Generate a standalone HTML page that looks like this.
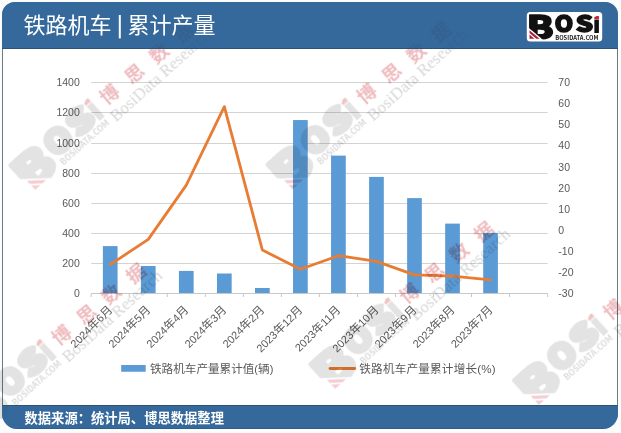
<!DOCTYPE html><html><head><meta charset="utf-8"><title>铁路机车 | 累计产量</title><style>html,body{margin:0;padding:0;background:#fff;}svg{display:block}</style></head><body>
<svg width="621" height="433" viewBox="0 0 621 433">
<defs><clipPath id="cutB" clipPathUnits="userSpaceOnUse"><polygon points="520,0 560,0 560,54 520,20.56"/></clipPath><clipPath id="cutI" clipPathUnits="userSpaceOnUse"><rect x="585" y="19.6" width="20" height="20"/></clipPath><filter id="wmblur" x="-10%" y="-10%" width="120%" height="120%"><feGaussianBlur stdDeviation="0.35"/></filter></defs>
<rect x="0" y="0" width="621" height="433" fill="#fbfdfd"/>
<rect x="2.5" y="30" width="615" height="378" fill="#fff" stroke="#6d7b84" stroke-width="1"/>
<path d="M2,49 V15 A13,13 0 0 1 15,2 H605 A13,13 0 0 1 618,15 V49 Z" fill="#35689b"/>
<path d="M2,405 H618 V413.5 A15.5,15.5 0 0 1 602.5,429 H17.5 A15.5,15.5 0 0 1 2,413.5 Z" fill="#35689b"/>
<line x1="91.2" x2="547.6" y1="263.5" y2="263.5" stroke="#d3d3d3" stroke-width="1"/>
<line x1="91.2" x2="547.6" y1="233.5" y2="233.5" stroke="#d3d3d3" stroke-width="1"/>
<line x1="91.2" x2="547.6" y1="203.5" y2="203.5" stroke="#d3d3d3" stroke-width="1"/>
<line x1="91.2" x2="547.6" y1="173.5" y2="173.5" stroke="#d3d3d3" stroke-width="1"/>
<line x1="91.2" x2="547.6" y1="143.5" y2="143.5" stroke="#d3d3d3" stroke-width="1"/>
<line x1="91.2" x2="547.6" y1="112.5" y2="112.5" stroke="#d3d3d3" stroke-width="1"/>
<line x1="91.2" x2="547.6" y1="82.5" y2="82.5" stroke="#d3d3d3" stroke-width="1"/>
<line x1="91.2" x2="547.6" y1="293.5" y2="293.5" stroke="#c8c8c8" stroke-width="1"/>
<line x1="91.20" x2="91.20" y1="293.5" y2="297" stroke="#c8c8c8" stroke-width="1"/>
<line x1="129.23" x2="129.23" y1="293.5" y2="297" stroke="#c8c8c8" stroke-width="1"/>
<line x1="167.27" x2="167.27" y1="293.5" y2="297" stroke="#c8c8c8" stroke-width="1"/>
<line x1="205.30" x2="205.30" y1="293.5" y2="297" stroke="#c8c8c8" stroke-width="1"/>
<line x1="243.33" x2="243.33" y1="293.5" y2="297" stroke="#c8c8c8" stroke-width="1"/>
<line x1="281.37" x2="281.37" y1="293.5" y2="297" stroke="#c8c8c8" stroke-width="1"/>
<line x1="319.40" x2="319.40" y1="293.5" y2="297" stroke="#c8c8c8" stroke-width="1"/>
<line x1="357.43" x2="357.43" y1="293.5" y2="297" stroke="#c8c8c8" stroke-width="1"/>
<line x1="395.47" x2="395.47" y1="293.5" y2="297" stroke="#c8c8c8" stroke-width="1"/>
<line x1="433.50" x2="433.50" y1="293.5" y2="297" stroke="#c8c8c8" stroke-width="1"/>
<line x1="471.53" x2="471.53" y1="293.5" y2="297" stroke="#c8c8c8" stroke-width="1"/>
<line x1="509.57" x2="509.57" y1="293.5" y2="297" stroke="#c8c8c8" stroke-width="1"/>
<line x1="547.60" x2="547.60" y1="293.5" y2="297" stroke="#c8c8c8" stroke-width="1"/>
<rect x="102.87" y="246.10" width="14.7" height="46.90" fill="#5b9bd5"/>
<rect x="140.90" y="266.00" width="14.7" height="27.00" fill="#5b9bd5"/>
<rect x="178.93" y="270.90" width="14.7" height="22.10" fill="#5b9bd5"/>
<rect x="216.97" y="273.50" width="14.7" height="19.50" fill="#5b9bd5"/>
<rect x="255.00" y="288.00" width="14.7" height="5.00" fill="#5b9bd5"/>
<rect x="293.03" y="120.05" width="14.7" height="172.95" fill="#5b9bd5"/>
<rect x="331.07" y="155.60" width="14.7" height="137.40" fill="#5b9bd5"/>
<rect x="369.10" y="176.90" width="14.7" height="116.10" fill="#5b9bd5"/>
<rect x="407.13" y="198.10" width="14.7" height="94.90" fill="#5b9bd5"/>
<rect x="445.17" y="223.60" width="14.7" height="69.40" fill="#5b9bd5"/>
<rect x="483.20" y="232.90" width="14.7" height="60.10" fill="#5b9bd5"/>
<polyline points="110.22,264.60 148.25,239.40 186.28,185.10 224.32,106.60 262.35,250.00 300.38,269.30 338.42,255.70 376.45,261.40 414.48,274.90 452.52,276.10 490.55,279.90" fill="none" stroke="#e87c33" stroke-width="2.8" stroke-linejoin="round" stroke-linecap="round"/>
<text x="79.8" y="297.10" font-family="Liberation Sans, sans-serif" font-size="10.5" fill="#595959" text-anchor="end">0</text>
<text x="79.8" y="267.10" font-family="Liberation Sans, sans-serif" font-size="10.5" fill="#595959" text-anchor="end">200</text>
<text x="79.8" y="237.10" font-family="Liberation Sans, sans-serif" font-size="10.5" fill="#595959" text-anchor="end">400</text>
<text x="79.8" y="207.10" font-family="Liberation Sans, sans-serif" font-size="10.5" fill="#595959" text-anchor="end">600</text>
<text x="79.8" y="177.10" font-family="Liberation Sans, sans-serif" font-size="10.5" fill="#595959" text-anchor="end">800</text>
<text x="79.8" y="147.10" font-family="Liberation Sans, sans-serif" font-size="10.5" fill="#595959" text-anchor="end">1000</text>
<text x="79.8" y="116.10" font-family="Liberation Sans, sans-serif" font-size="10.5" fill="#595959" text-anchor="end">1200</text>
<text x="79.8" y="86.10" font-family="Liberation Sans, sans-serif" font-size="10.5" fill="#595959" text-anchor="end">1400</text>
<text x="558.3" y="86.10" font-family="Liberation Sans, sans-serif" font-size="10.5" fill="#595959">70</text>
<text x="558.3" y="107.20" font-family="Liberation Sans, sans-serif" font-size="10.5" fill="#595959">60</text>
<text x="558.3" y="128.30" font-family="Liberation Sans, sans-serif" font-size="10.5" fill="#595959">50</text>
<text x="558.3" y="149.40" font-family="Liberation Sans, sans-serif" font-size="10.5" fill="#595959">40</text>
<text x="558.3" y="170.50" font-family="Liberation Sans, sans-serif" font-size="10.5" fill="#595959">30</text>
<text x="558.3" y="191.60" font-family="Liberation Sans, sans-serif" font-size="10.5" fill="#595959">20</text>
<text x="558.3" y="212.70" font-family="Liberation Sans, sans-serif" font-size="10.5" fill="#595959">10</text>
<text x="558.3" y="233.80" font-family="Liberation Sans, sans-serif" font-size="10.5" fill="#595959">0</text>
<text x="558.3" y="254.90" font-family="Liberation Sans, sans-serif" font-size="10.5" fill="#595959">-10</text>
<text x="558.3" y="276.00" font-family="Liberation Sans, sans-serif" font-size="10.5" fill="#595959">-20</text>
<text x="558.3" y="297.10" font-family="Liberation Sans, sans-serif" font-size="10.5" fill="#595959">-30</text>
<text transform="translate(113.12,310.50) rotate(-45)" font-family="Liberation Sans, Noto Sans CJK SC, sans-serif" font-size="11.6" fill="#595959" text-anchor="end"><tspan font-size="11">2024</tspan>年<tspan font-size="11">6</tspan>月</text>
<text transform="translate(151.15,310.50) rotate(-45)" font-family="Liberation Sans, Noto Sans CJK SC, sans-serif" font-size="11.6" fill="#595959" text-anchor="end"><tspan font-size="11">2024</tspan>年<tspan font-size="11">5</tspan>月</text>
<text transform="translate(189.18,310.50) rotate(-45)" font-family="Liberation Sans, Noto Sans CJK SC, sans-serif" font-size="11.6" fill="#595959" text-anchor="end"><tspan font-size="11">2024</tspan>年<tspan font-size="11">4</tspan>月</text>
<text transform="translate(227.22,310.50) rotate(-45)" font-family="Liberation Sans, Noto Sans CJK SC, sans-serif" font-size="11.6" fill="#595959" text-anchor="end"><tspan font-size="11">2024</tspan>年<tspan font-size="11">3</tspan>月</text>
<text transform="translate(265.25,310.50) rotate(-45)" font-family="Liberation Sans, Noto Sans CJK SC, sans-serif" font-size="11.6" fill="#595959" text-anchor="end"><tspan font-size="11">2024</tspan>年<tspan font-size="11">2</tspan>月</text>
<text transform="translate(303.28,310.50) rotate(-45)" font-family="Liberation Sans, Noto Sans CJK SC, sans-serif" font-size="11.6" fill="#595959" text-anchor="end"><tspan font-size="11">2023</tspan>年<tspan font-size="11">12</tspan>月</text>
<text transform="translate(341.32,310.50) rotate(-45)" font-family="Liberation Sans, Noto Sans CJK SC, sans-serif" font-size="11.6" fill="#595959" text-anchor="end"><tspan font-size="11">2023</tspan>年<tspan font-size="11">11</tspan>月</text>
<text transform="translate(379.35,310.50) rotate(-45)" font-family="Liberation Sans, Noto Sans CJK SC, sans-serif" font-size="11.6" fill="#595959" text-anchor="end"><tspan font-size="11">2023</tspan>年<tspan font-size="11">10</tspan>月</text>
<text transform="translate(417.38,310.50) rotate(-45)" font-family="Liberation Sans, Noto Sans CJK SC, sans-serif" font-size="11.6" fill="#595959" text-anchor="end"><tspan font-size="11">2023</tspan>年<tspan font-size="11">9</tspan>月</text>
<text transform="translate(455.42,310.50) rotate(-45)" font-family="Liberation Sans, Noto Sans CJK SC, sans-serif" font-size="11.6" fill="#595959" text-anchor="end"><tspan font-size="11">2023</tspan>年<tspan font-size="11">8</tspan>月</text>
<text transform="translate(493.45,310.50) rotate(-45)" font-family="Liberation Sans, Noto Sans CJK SC, sans-serif" font-size="11.6" fill="#595959" text-anchor="end"><tspan font-size="11">2023</tspan>年<tspan font-size="11">7</tspan>月</text>
<rect x="121.2" y="365" width="24.5" height="6.75" fill="#5b9bd5"/>
<text x="150" y="373.1" font-family="Liberation Sans, Noto Sans CJK SC, sans-serif" font-size="11.6" fill="#595959">铁路机车产量累计值<tspan font-size="11">(</tspan>辆<tspan font-size="11">)</tspan></text>
<line x1="330" x2="354.8" y1="368.5" y2="368.5" stroke="#e87c33" stroke-width="2.8" stroke-linecap="round"/>
<text x="359.3" y="373.1" font-family="Liberation Sans, Noto Sans CJK SC, sans-serif" font-size="11.6" fill="#595959" letter-spacing="0.2">铁路机车产量累计增长<tspan font-size="11.6">(%)</tspan></text>
<g style="mix-blend-mode:multiply" filter="url(#wmblur)" transform="translate(87,102) rotate(-42) scale(1.45) translate(-596.6,-17.5)"><g clip-path="url(#cutB)"><text transform="translate(525.1,38.5) scale(1.19,0.97)" font-family="Noto Sans CJK SC, sans-serif" font-weight="900" font-size="33" fill="#e3e3e3" stroke="#e3e3e3" stroke-width="3.0" stroke-linejoin="round">B</text></g><text transform="translate(554.6,32.4) scale(1.0,0.95)" font-family="Noto Sans CJK SC, sans-serif" font-weight="900" font-size="24" fill="#e3e3e3" stroke="#e3e3e3" stroke-width="3.0" stroke-linejoin="round">O</text><text transform="translate(575.5,32.4) scale(1.16,0.95)" font-family="Noto Sans CJK SC, sans-serif" font-weight="900" font-size="24" fill="#e3e3e3" stroke="#e3e3e3" stroke-width="3.0" stroke-linejoin="round">S</text><g clip-path="url(#cutI)"><text transform="translate(592.6,33) scale(1.07,1)" font-family="Noto Sans CJK SC, sans-serif" font-weight="900" font-size="24" fill="#e3e3e3">i</text></g><polygon points="594.3,17.2 596.6,15.9 598.9,15.9 598.9,19 594.3,19" fill="#f2c4c7"/><polygon points="529.5,30.19 539.67,38.7 536.24,38.7 529.5,33.06" fill="#f4cdd0"/><polygon points="529.5,34.62 534.37,38.7 529.54,38.7 529.5,38.66" fill="#f4cdd0"/><text x="555.2" y="39.6" font-family="Noto Sans CJK SC, sans-serif" font-weight="bold" font-size="5.8" fill="#dcdcdc">BOSIDATA.COM</text><text x="605.2" y="28.7" transform="rotate(2.4 611.7 24)" font-family="Liberation Sans, Noto Sans CJK SC, sans-serif" font-weight="bold" font-size="13" letter-spacing="9.2" fill="#efbcc0">博思数据</text><text x="602" y="41.45" font-family="Liberation Serif, serif" font-size="11.5" letter-spacing="0.05" fill="#d8d8d8">BosiData Research</text></g>
<g style="mix-blend-mode:multiply" filter="url(#wmblur)" transform="translate(344.2,101.4) rotate(-42) scale(1.45) translate(-596.6,-17.5)"><g clip-path="url(#cutB)"><text transform="translate(525.1,38.5) scale(1.19,0.97)" font-family="Noto Sans CJK SC, sans-serif" font-weight="900" font-size="33" fill="#e3e3e3" stroke="#e3e3e3" stroke-width="3.0" stroke-linejoin="round">B</text></g><text transform="translate(554.6,32.4) scale(1.0,0.95)" font-family="Noto Sans CJK SC, sans-serif" font-weight="900" font-size="24" fill="#e3e3e3" stroke="#e3e3e3" stroke-width="3.0" stroke-linejoin="round">O</text><text transform="translate(575.5,32.4) scale(1.16,0.95)" font-family="Noto Sans CJK SC, sans-serif" font-weight="900" font-size="24" fill="#e3e3e3" stroke="#e3e3e3" stroke-width="3.0" stroke-linejoin="round">S</text><g clip-path="url(#cutI)"><text transform="translate(592.6,33) scale(1.07,1)" font-family="Noto Sans CJK SC, sans-serif" font-weight="900" font-size="24" fill="#e3e3e3">i</text></g><polygon points="594.3,17.2 596.6,15.9 598.9,15.9 598.9,19 594.3,19" fill="#f2c4c7"/><polygon points="529.5,30.19 539.67,38.7 536.24,38.7 529.5,33.06" fill="#f4cdd0"/><polygon points="529.5,34.62 534.37,38.7 529.54,38.7 529.5,38.66" fill="#f4cdd0"/><text x="555.2" y="39.6" font-family="Noto Sans CJK SC, sans-serif" font-weight="bold" font-size="5.8" fill="#dcdcdc">BOSIDATA.COM</text><text x="605.2" y="28.7" transform="rotate(2.4 611.7 24)" font-family="Liberation Sans, Noto Sans CJK SC, sans-serif" font-weight="bold" font-size="13" letter-spacing="9.2" fill="#efbcc0">博思数据</text><text x="602" y="41.45" font-family="Liberation Serif, serif" font-size="11.5" letter-spacing="0.05" fill="#d8d8d8">BosiData Research</text></g>
<g style="mix-blend-mode:multiply" filter="url(#wmblur)" transform="translate(39.1,342.7) rotate(-42) scale(1.45) translate(-596.6,-17.5)"><g clip-path="url(#cutB)"><text transform="translate(525.1,38.5) scale(1.19,0.97)" font-family="Noto Sans CJK SC, sans-serif" font-weight="900" font-size="33" fill="#e3e3e3" stroke="#e3e3e3" stroke-width="3.0" stroke-linejoin="round">B</text></g><text transform="translate(554.6,32.4) scale(1.0,0.95)" font-family="Noto Sans CJK SC, sans-serif" font-weight="900" font-size="24" fill="#e3e3e3" stroke="#e3e3e3" stroke-width="3.0" stroke-linejoin="round">O</text><text transform="translate(575.5,32.4) scale(1.16,0.95)" font-family="Noto Sans CJK SC, sans-serif" font-weight="900" font-size="24" fill="#e3e3e3" stroke="#e3e3e3" stroke-width="3.0" stroke-linejoin="round">S</text><g clip-path="url(#cutI)"><text transform="translate(592.6,33) scale(1.07,1)" font-family="Noto Sans CJK SC, sans-serif" font-weight="900" font-size="24" fill="#e3e3e3">i</text></g><polygon points="594.3,17.2 596.6,15.9 598.9,15.9 598.9,19 594.3,19" fill="#f2c4c7"/><polygon points="529.5,30.19 539.67,38.7 536.24,38.7 529.5,33.06" fill="#f4cdd0"/><polygon points="529.5,34.62 534.37,38.7 529.54,38.7 529.5,38.66" fill="#f4cdd0"/><text x="555.2" y="39.6" font-family="Noto Sans CJK SC, sans-serif" font-weight="bold" font-size="5.8" fill="#dcdcdc">BOSIDATA.COM</text><text x="605.2" y="28.7" transform="rotate(2.4 611.7 24)" font-family="Liberation Sans, Noto Sans CJK SC, sans-serif" font-weight="bold" font-size="13" letter-spacing="9.2" fill="#efbcc0">博思数据</text><text x="602" y="41.45" font-family="Liberation Serif, serif" font-size="11.5" letter-spacing="0.05" fill="#d8d8d8">BosiData Research</text></g>
<g style="mix-blend-mode:multiply" filter="url(#wmblur)" transform="translate(387,301) rotate(-42) scale(1.45) translate(-596.6,-17.5)"><g clip-path="url(#cutB)"><text transform="translate(525.1,38.5) scale(1.19,0.97)" font-family="Noto Sans CJK SC, sans-serif" font-weight="900" font-size="33" fill="#e3e3e3" stroke="#e3e3e3" stroke-width="3.0" stroke-linejoin="round">B</text></g><text transform="translate(554.6,32.4) scale(1.0,0.95)" font-family="Noto Sans CJK SC, sans-serif" font-weight="900" font-size="24" fill="#e3e3e3" stroke="#e3e3e3" stroke-width="3.0" stroke-linejoin="round">O</text><text transform="translate(575.5,32.4) scale(1.16,0.95)" font-family="Noto Sans CJK SC, sans-serif" font-weight="900" font-size="24" fill="#e3e3e3" stroke="#e3e3e3" stroke-width="3.0" stroke-linejoin="round">S</text><g clip-path="url(#cutI)"><text transform="translate(592.6,33) scale(1.07,1)" font-family="Noto Sans CJK SC, sans-serif" font-weight="900" font-size="24" fill="#e3e3e3">i</text></g><polygon points="594.3,17.2 596.6,15.9 598.9,15.9 598.9,19 594.3,19" fill="#f2c4c7"/><polygon points="529.5,30.19 539.67,38.7 536.24,38.7 529.5,33.06" fill="#f4cdd0"/><polygon points="529.5,34.62 534.37,38.7 529.54,38.7 529.5,38.66" fill="#f4cdd0"/><text x="555.2" y="39.6" font-family="Noto Sans CJK SC, sans-serif" font-weight="bold" font-size="5.8" fill="#dcdcdc">BOSIDATA.COM</text><text x="605.2" y="28.7" transform="rotate(2.4 611.7 24)" font-family="Liberation Sans, Noto Sans CJK SC, sans-serif" font-weight="bold" font-size="13" letter-spacing="9.2" fill="#efbcc0">博思数据</text><text x="602" y="41.45" font-family="Liberation Serif, serif" font-size="11.5" letter-spacing="0.05" fill="#d8d8d8">BosiData Research</text></g>
<g style="mix-blend-mode:multiply" filter="url(#wmblur)" transform="translate(590.7,317.1) rotate(-42) scale(1.45) translate(-596.6,-17.5)"><g clip-path="url(#cutB)"><text transform="translate(525.1,38.5) scale(1.19,0.97)" font-family="Noto Sans CJK SC, sans-serif" font-weight="900" font-size="33" fill="#e3e3e3" stroke="#e3e3e3" stroke-width="3.0" stroke-linejoin="round">B</text></g><text transform="translate(554.6,32.4) scale(1.0,0.95)" font-family="Noto Sans CJK SC, sans-serif" font-weight="900" font-size="24" fill="#e3e3e3" stroke="#e3e3e3" stroke-width="3.0" stroke-linejoin="round">O</text><text transform="translate(575.5,32.4) scale(1.16,0.95)" font-family="Noto Sans CJK SC, sans-serif" font-weight="900" font-size="24" fill="#e3e3e3" stroke="#e3e3e3" stroke-width="3.0" stroke-linejoin="round">S</text><g clip-path="url(#cutI)"><text transform="translate(592.6,33) scale(1.07,1)" font-family="Noto Sans CJK SC, sans-serif" font-weight="900" font-size="24" fill="#e3e3e3">i</text></g><polygon points="594.3,17.2 596.6,15.9 598.9,15.9 598.9,19 594.3,19" fill="#f2c4c7"/><polygon points="529.5,30.19 539.67,38.7 536.24,38.7 529.5,33.06" fill="#f4cdd0"/><polygon points="529.5,34.62 534.37,38.7 529.54,38.7 529.5,38.66" fill="#f4cdd0"/><text x="555.2" y="39.6" font-family="Noto Sans CJK SC, sans-serif" font-weight="bold" font-size="5.8" fill="#dcdcdc">BOSIDATA.COM</text><text x="605.2" y="28.7" transform="rotate(2.4 611.7 24)" font-family="Liberation Sans, Noto Sans CJK SC, sans-serif" font-weight="bold" font-size="13" letter-spacing="9.2" fill="#efbcc0">博思数据</text><text x="602" y="41.45" font-family="Liberation Serif, serif" font-size="11.5" letter-spacing="0.05" fill="#d8d8d8">BosiData Research</text></g>
<path d="M2,49 V15 A13,13 0 0 1 15,2 H605 A13,13 0 0 1 618,15 V49 Z" fill="#35689b" opacity="0.75"/>
<path d="M2,405 H618 V413.5 A15.5,15.5 0 0 1 602.5,429 H17.5 A15.5,15.5 0 0 1 2,413.5 Z" fill="#35689b" opacity="0.75"/>
<rect x="2" y="48" width="616" height="1" fill="#2c5378"/>
<rect x="2" y="405" width="616" height="1" fill="#2c5378"/>
<rect x="17" y="428" width="586" height="1" fill="#2c5378" opacity="0.5"/>
<text x="23.5" y="33" font-family="Liberation Sans, Noto Sans CJK SC, sans-serif" font-size="22" fill="#fff">铁路机车</text>
<rect x="118.8" y="15" width="2" height="23.4" fill="#fff"/>
<text x="127.6" y="33" font-family="Liberation Sans, Noto Sans CJK SC, sans-serif" font-size="22" fill="#fff">累计产量</text>
<text x="24.5" y="422.5" font-family="Liberation Sans, Noto Sans CJK SC, sans-serif" font-size="13.3" font-weight="bold" fill="#fff">数据来源：统计局、博思数据整理</text>
<rect x="526.8" y="12" width="75.4" height="29.4" rx="3.5" fill="#fff"/><g clip-path="url(#cutB)"><text transform="translate(526.6,38.5) scale(1.19,0.97)" font-family="Noto Sans CJK SC, sans-serif" font-weight="900" font-size="33" fill="#111" stroke="#111" stroke-width="1.4" stroke-linejoin="round">B</text></g><text transform="translate(554.6,32.4) scale(1.0,0.95)" font-family="Noto Sans CJK SC, sans-serif" font-weight="900" font-size="24" fill="#111" stroke="#111" stroke-width="1.4" stroke-linejoin="round">O</text><text transform="translate(575.5,32.4) scale(1.16,0.95)" font-family="Noto Sans CJK SC, sans-serif" font-weight="900" font-size="24" fill="#111" stroke="#111" stroke-width="1.4" stroke-linejoin="round">S</text><g clip-path="url(#cutI)"><text transform="translate(592.6,33) scale(1.07,1)" font-family="Noto Sans CJK SC, sans-serif" font-weight="900" font-size="24" fill="#111">i</text></g><polygon points="594.3,17.2 596.6,15.9 598.9,15.9 598.9,19 594.3,19" fill="#c8242f"/><polygon points="529.5,30.19 539.67,38.7 536.24,38.7 529.5,33.06" fill="#b01e35"/><polygon points="529.5,34.62 534.37,38.7 529.54,38.7 529.5,38.66" fill="#b01e35"/><text x="555.2" y="39.6" font-family="Noto Sans CJK SC, sans-serif" font-weight="bold" font-size="5.8" fill="#222">BOSIDATA.COM</text>
</svg></body></html>
